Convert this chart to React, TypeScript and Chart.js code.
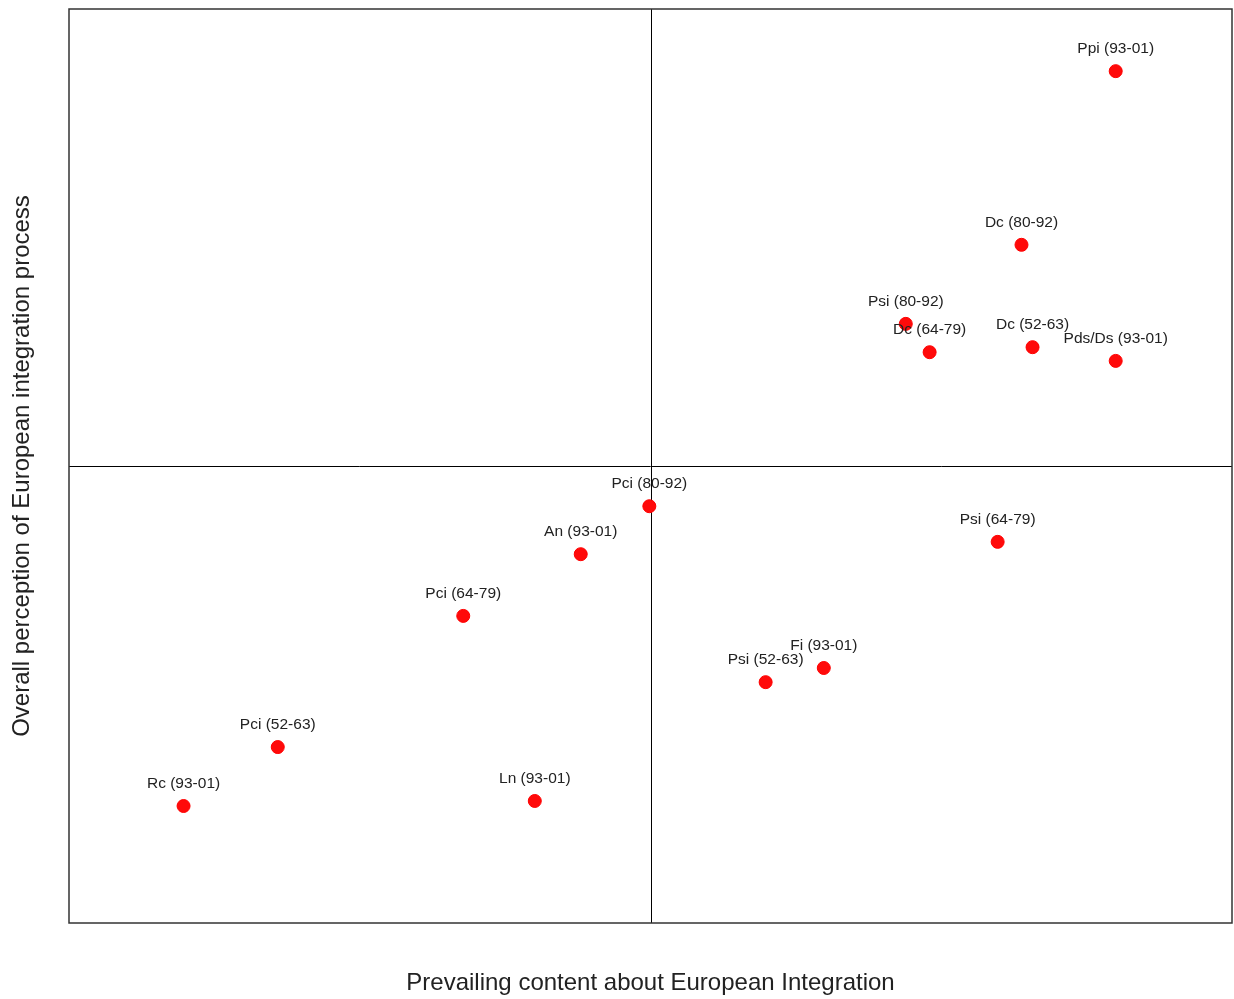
import React, { useEffect, useRef } from "react";
import { Chart, registerables } from "chart.js";

Chart.register(...registerables);

const labels: string[] = [
  "Ppi (93-01)",
  "Dc (80-92)",
  "Psi (80-92)",
  "Dc (64-79)",
  "Dc (52-63)",
  "Pds/Ds (93-01)",
  "Pci (80-92)",
  "An (93-01)",
  "Psi (64-79)",
  "Pci (64-79)",
  "Fi (93-01)",
  "Psi (52-63)",
  "Pci (52-63)",
  "Ln (93-01)",
  "Rc (93-01)",
];
const xValues: number[] = [0.8, 0.638, 0.439, 0.48, 0.657, 0.8, -0.002, -0.12, 0.597, -0.322, 0.298, 0.198, -0.641, -0.199, -0.803];
const yValues: number[] = [0.864, 0.484, 0.311, 0.249, 0.26, 0.23, -0.088, -0.193, -0.166, -0.328, -0.442, -0.473, -0.615, -0.733, -0.744];

const xTitle = "Prevailing content about European Integration";
const yTitle = "Overall perception of European integration process";

const FONT = "Arial, 'Liberation Sans', sans-serif";

const decorPlugin = {
  id: "decor",
  beforeDatasetsDraw(chart: any) {
    const { ctx, chartArea, scales } = chart;
    const { left, right, top, bottom } = chartArea;
    ctx.save();
    ctx.strokeStyle = "#000";
    ctx.lineWidth = 1;
    const x0 = Math.round(scales.x.getPixelForValue(0)) + 0.5;
    const y0 = Math.round(scales.y.getPixelForValue(0)) + 0.5;
    ctx.beginPath();
    ctx.moveTo(x0, top);
    ctx.lineTo(x0, bottom);
    ctx.moveTo(left, y0);
    ctx.lineTo(right, y0);
    ctx.stroke();
    ctx.strokeStyle = "#333";
    ctx.lineWidth = 1.5;
    ctx.strokeRect(left, top, right - left, bottom - top);
    ctx.restore();
  },
  afterDatasetsDraw(chart: any) {
    const { ctx } = chart;
    const meta = chart.getDatasetMeta(0);
    ctx.save();
    ctx.fillStyle = "#222";
    ctx.font = `15.5px ${FONT}`;
    ctx.textAlign = "center";
    ctx.textBaseline = "middle";
    meta.data.forEach((el: any, i: number) => {
      ctx.fillText(labels[i], el.x, el.y - 22);
    });
    ctx.restore();
  },
};

export default function App() {
  const ref = useRef<HTMLCanvasElement | null>(null);
  useEffect(() => {
    if (!ref.current) return;
    const chart = new Chart(ref.current, {
      type: "scatter",
      data: {
        datasets: [
          {
            data: xValues.map((x, i) => ({ x, y: yValues[i] })),
            backgroundColor: "#ff0a0a",
            borderColor: "#ff0000",
            borderWidth: 1,
            pointRadius: 6.5,
          },
        ],
      },
      options: {
        responsive: false,
        animation: false,
        devicePixelRatio: 1,
        layout: { autoPadding: false, padding: { left: 0, top: 9, right: 2, bottom: 0 } },
        plugins: { legend: { display: false }, tooltip: { enabled: false } },
        scales: {
          x: {
            type: "linear",
            min: -1,
            max: 1,
            ticks: { display: false },
            grid: { display: false, drawTicks: false },
            border: { display: false },
            title: {
              display: true,
              text: xTitle,
              color: "#222",
              font: { family: FONT, size: 24, lineHeight: 1.2 },
              padding: { top: 45.6, bottom: 1.6 },
            },
          },
          y: {
            type: "linear",
            min: -1,
            max: 1,
            ticks: { display: false },
            grid: { display: false, drawTicks: false },
            border: { display: false },
            title: {
              display: true,
              text: yTitle,
              color: "#222",
              font: { family: FONT, size: 24, lineHeight: 1.2 },
              padding: { top: 7.6, bottom: 32.6 },
            },
          },
        },
      },
      plugins: [decorPlugin],
    });
    return () => chart.destroy();
  }, []);
  return (
    <div style={{ position: "fixed", left: 0, top: 0, width: 1234, height: 999, background: "#fff" }}>
      <canvas ref={ref} width={1234} height={999} style={{ width: 1234, height: 999 }} />
    </div>
  );
}
